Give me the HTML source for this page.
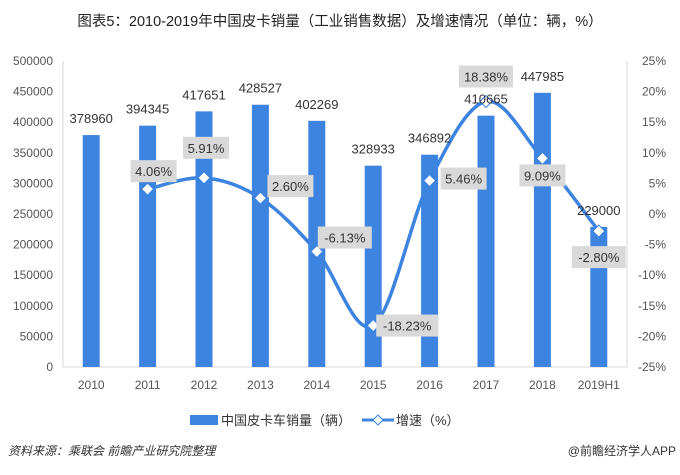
<!DOCTYPE html>
<html><head><meta charset="utf-8"><style>
body{margin:0;background:#fff;}
svg text{font-family:"Liberation Sans","Noto Sans CJK SC",sans-serif;}
</style></head><body>
<svg id="chart" width="680" height="470" xmlns="http://www.w3.org/2000/svg">
<text x="340" y="26" text-anchor="middle" font-size="14.5" fill="#222">图表5：2010-2019年中国皮卡销量（工业销售数据）及增速情况（单位：辆，%）</text>
<g id="grid"></g><g id="bars"></g><g id="line"></g><g id="labels"></g>
<g>
<rect x="190" y="415" width="28" height="10" fill="#3d83e0"/>
<text x="221" y="425" font-size="13" fill="#333">中国皮卡车销量（辆）</text>
<line x1="362" y1="420" x2="394" y2="420" stroke="#3d83e0" stroke-width="3"/>
<path d="M378 415 L383 420 L378 425 L373 420Z" fill="#fff" stroke="#3d83e0"/>
<text x="396" y="425" font-size="13" fill="#333">增速（%）</text>
</g>
<text x="8" y="455" font-size="12" font-style="italic" fill="#333">资料来源：乘联会 前瞻产业研究院整理</text>
<text x="676" y="455" text-anchor="end" font-size="12" fill="#333">@前瞻经济学人APP</text>
</svg>
<script>
const categories=["2010","2011","2012","2013","2014","2015","2016","2017","2018","2019H1"];
const sales=[378960,394345,417651,428527,402269,328933,346892,410665,447985,229000];
const growth=[null,4.06,5.91,2.60,-6.13,-18.23,5.46,18.38,9.09,-2.80];
const leftTicks=[0,50000,100000,150000,200000,250000,300000,350000,400000,450000,500000];
const rightTicks=[-25,-20,-15,-10,-5,0,5,10,15,20,25];
const labelOff=[[0,0],[6,-18],[2,-30],[30,-12],[28,-14],[34,0],[34,-2],[0,-25],[0,17],[0,26]];
const L=63,R=627,T=61,B=367;
const NS="http://www.w3.org/2000/svg";
const bw=(R-L)/categories.length;
const x=i=>L+bw*(i+0.5);
const yL=v=>B-(v/500000)*(B-T);
const yR=v=>B-((v+25)/50)*(B-T);
function mk(tag,attrs,parent,txt){const e=document.createElementNS(NS,tag);for(const k in attrs)e.setAttribute(k,attrs[k]);if(txt!==undefined)e.textContent=txt;parent.appendChild(e);return e;}
const grid=document.getElementById('grid'),bars=document.getElementById('bars'),line=document.getElementById('line'),labels=document.getElementById('labels');
let a=mk('line',{x1:L,y1:T,x2:L,y2:B,stroke:'#d9d9d9'},grid);

a=mk('line',{x1:R,y1:T,x2:R,y2:B,stroke:'#d9d9d9'},grid);

a=mk('line',{x1:L,y1:B,x2:R,y2:B,stroke:'#d9d9d9'},grid);

leftTicks.forEach(v=>{const t=mk('text',{x:53,y:yL(v)+4,'text-anchor':'end','font-size':12,fill:'#555'},grid,String(v));
});
rightTicks.forEach(v=>{const t=mk('text',{x:666,y:yR(v)+4,'text-anchor':'end','font-size':12,fill:'#555'},grid,v+'%');
});
categories.forEach((c,i)=>{const t=mk('text',{x:x(i),y:389,'text-anchor':'middle','font-size':12,fill:'#555'},grid,c);
});
sales.forEach((v,i)=>{const r=mk('rect',{x:x(i)-8.5,y:yL(v),width:17,height:B-yL(v),fill:'#3d83e0'},bars);

const t=mk('text',{x:x(i),y:yL(v)-12,'text-anchor':'middle','font-size':13,fill:'#333'},labels,String(v));
});
const pts=[];growth.forEach((g,i)=>{if(g!==null)pts.push([x(i),yR(g),i,g]);});
let d='M'+pts[0][0]+' '+pts[0][1];
for(let k=0;k<pts.length-1;k++){const p0=pts[Math.max(0,k-1)],p1=pts[k],p2=pts[k+1],p3=pts[Math.min(pts.length-1,k+2)];
const c1x=p1[0]+(p2[0]-p0[0])/6,c1y=p1[1]+(p2[1]-p0[1])/6,c2x=p2[0]-(p3[0]-p1[0])/6,c2y=p2[1]-(p3[1]-p1[1])/6;
d+=` C${c1x} ${c1y} ${c2x} ${c2y} ${p2[0]} ${p2[1]}`;}
const pl=mk('path',{d:d,fill:'none',stroke:'#3d83e0','stroke-width':3.5},line);

pts.forEach(p=>{const [px,py,i,g]=p;
const m=mk('path',{d:`M${px} ${py-6}L${px+6} ${py}L${px} ${py+6}L${px-6} ${py}Z`,fill:'#fff',stroke:'#3d83e0','stroke-width':1},line);

const txt=g.toFixed(2)+'%';const w=txt.length*8+6;const cx=px+labelOff[i][0],cy=py+labelOff[i][1];
const bg=mk('rect',{x:cx-w/2,y:cy-11,width:w,height:22,fill:'#d9d9d9'},labels);

const t=mk('text',{x:cx,y:cy+5,'text-anchor':'middle','font-size':13,fill:'#333'},labels,txt);
});
</script>
</body></html>
